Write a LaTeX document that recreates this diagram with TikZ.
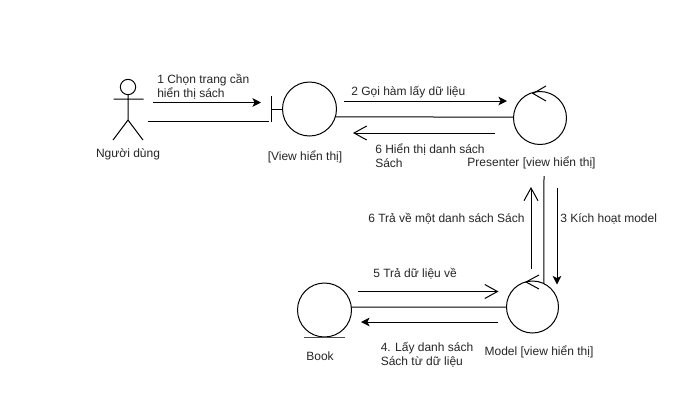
\documentclass[tikz,border=0pt]{standalone}
\usepackage{fontspec}
\setmainfont{Liberation Sans}
\usetikzlibrary{arrows.meta}
\tikzset{
  ln/.style={line width=0.75pt,black},
  obj/.style={circle,draw,line width=0.75pt,inner sep=0pt,outer sep=0pt},
  lbl/.style={font=\fontsize{9}{10.5}\selectfont,inner sep=0pt,align=left,text=black!85},
  lw/.style={lbl,anchor=west},
  solidarrow/.style={ln,-{Stealth[length=6.4pt,width=6.4pt,inset=1.6pt]}},
  openarrow/.style={ln,-{Straight Barb[length=9.5pt,width=10.5pt,line width=0.75pt]}}
}
\begin{document}
\begin{tikzpicture}[x=0.75pt,y=-0.75pt]
\useasboundingbox (0,0) rectangle (690,419);
\fill[white] (0,0) rectangle (690,419);
% objects
\node[obj,minimum size=40.5pt] (view) at (309.5,109) {};
\node[obj,minimum size=39.75pt] (pres) at (540,118) {};
\node[obj,minimum size=39pt] (model) at (532.5,307) {};
\node[obj,minimum size=40.5pt] (book) at (324.5,310) {};
% actor
\node[obj,minimum size=11.5pt] (head) at (128,87) {};
\coordinate (hip) at (128,120);
\coordinate (armL) at (113.5,99);
\coordinate (armR) at (143.5,99);
\coordinate (legL) at (113,140);
\coordinate (legR) at (143,140);
\draw[ln] (head) -- (hip) (armL) -- (armR) (legL) -- (hip) -- (legR);
% boundary
\coordinate (barT) at (271,96);
\coordinate (barB) at (271,122);
\coordinate (barM) at (271,109);
\draw[ln] (barT) -- (barB) (barM) -- (view.180);
% controller marks
\coordinate (pa) at (546,86);
\coordinate (pt) at (533,93.5);
\coordinate (pb) at (546,101);
\draw[ln] (pa) -- (pt) -- (pb);
\coordinate (ma) at (539,275);
\coordinate (mt) at (526,282);
\coordinate (mb) at (539,289);
\draw[ln] (ma) -- (mt) -- (mb);
% entity underline
\coordinate (ul) at (304,337);
\coordinate (ur) at (345,337);
\draw[line width=0.75pt,black!70] (ul) -- (ur);
% links
\coordinate (actorEnd) at (148,121);
\coordinate (barEnd) at (269,121);
\draw[ln] (actorEnd) -- (barEnd);
\draw[ln] (view.-17) -- (pres.178);
\coordinate (presLink) at (544,176);
\draw[ln] (presLink) -- (model.64);
\draw[ln] (book.6) -- (model.180);
% message arrows
\coordinate (a1s) at (153,102.5);
\coordinate (a1e) at (261,102.5);
\draw[solidarrow] (a1s) -- (a1e);
\coordinate (a2s) at (344,101);
\coordinate (a2e) at (507,101);
\draw[solidarrow] (a2s) -- (a2e);
\coordinate (a6s) at (495,133);
\coordinate (a6e) at (353,133);
\draw[openarrow] (a6s) -- (a6e);
\coordinate (a6us) at (531,269);
\coordinate (a6ue) at (531,187);
\draw[openarrow] (a6us) -- (a6ue);
\coordinate (a3s) at (557,188);
\coordinate (a3e) at (557,284.5);
\draw[solidarrow] (a3s) -- (a3e);
\coordinate (a5s) at (358,291.5);
\coordinate (a5e) at (498.5,291.5);
\draw[openarrow] (a5s) -- (a5e);
\coordinate (a4s) at (498,322);
\coordinate (a4e) at (361,322);
\draw[solidarrow] (a4s) -- (a4e);
% labels
\node[lbl] (tActor) at (128,154) {Người dùng};
\node[lbl] (tView) at (305,157) {[View hiển thị]};
\node[lbl] (tPres) at (531.5,163) {Presenter [view hiển thị]};
\node[lbl] (tModel) at (539,352) {Model [view hiển thị]};
\node[lbl] (tBook) at (320,356) {Book};
\node[lw] (m1) at (157,87) {1 Chọn trang cần\\hiển thị sách};
\node[lw] (m2) at (351,92) {2 Gọi hàm lấy dữ liệu};
\node[lw] (m6a) at (375,156) {6 Hiển thị danh sách\\Sách};
\node[lw] (m6b) at (368,219) {6 Trả về một danh sách Sách};
\node[lw] (m3) at (560,219) {3 Kích hoạt model};
\node[lw] (m5) at (373,274) {5 Trả dữ liệu về};
\node[lw] (m4) at (380.5,355) {4. Lấy danh sách\\Sách từ dữ liệu};
\end{tikzpicture}
\end{document}
